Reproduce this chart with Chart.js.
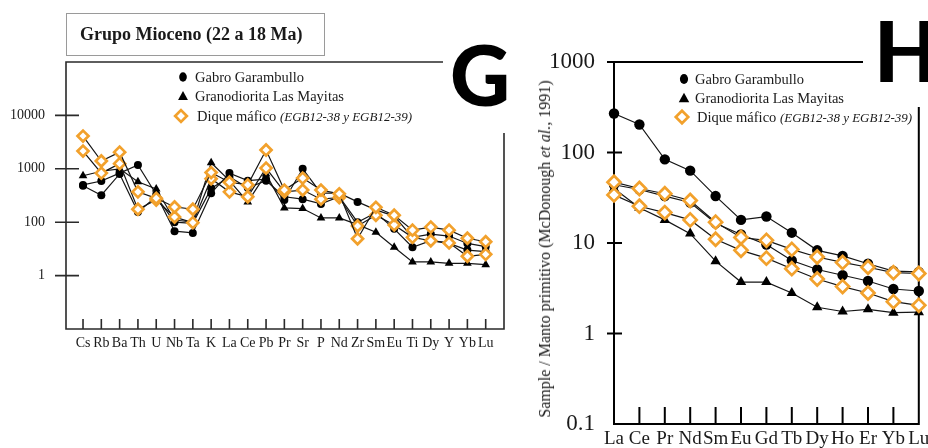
<!DOCTYPE html>
<html>
<head>
<meta charset="utf-8">
<script src="https://cdn.jsdelivr.net/npm/chart.js@4.4.0/dist/chart.umd.min.js"></script>
<style>
body { margin:0; width:928px; height:448px; overflow:hidden; position:relative; background:#fff;
       font-family:"Liberation Serif", "Times New Roman", serif; color:#1a1a1a; }
canvas { position:absolute; left:0; top:0; }
.abs { position:absolute; white-space:nowrap; }
.leg { font-size:14.5px; line-height:18px; }
.leg i { font-size:13px; }
.big { font-family:Lato, Roboto, "Open Sans", sans-serif; font-weight:900; font-size:83px; line-height:83px; color:#000; }
#titlebox { left:66px; top:13px; width:259px; height:43px; border:1.5px solid #9a9a9a; box-sizing:border-box;
            font-weight:bold; font-size:18px; line-height:41px; padding-left:13px; }
</style>
</head>
<body>
<canvas id="g" width="928" height="448"></canvas>
<canvas id="h" width="928" height="448"></canvas>

<div class="abs" id="titlebox">Grupo Mioceno (22 a 18 Ma)</div>
<div class="abs big" style="left:450px;top:33px">G</div>
<div class="abs big" style="left:874px;top:9px">H</div>

<div class="abs leg" style="left:195px;top:68px">Gabro Garambullo</div>
<div class="abs leg" style="left:195px;top:87px">Granodiorita Las Mayitas</div>
<div class="abs leg" style="left:197px;top:107px">Dique máfico <i>(EGB12-38 y EGB12-39)</i></div>

<div class="abs leg" style="left:695px;top:70px">Gabro Garambullo</div>
<div class="abs leg" style="left:695px;top:89px">Granodiorita Las Mayitas</div>
<div class="abs leg" style="left:697px;top:108px">Dique máfico <i>(EGB12-38 y EGB12-39)</i></div>

<div class="abs" style="left:545px;top:249px;font-size:16px;transform:translate(-50%,-50%) rotate(-90deg)">Sample / Manto primitivo (McDonough <i>et al.</i>, 1991)</div>

<script>
// panel G - spider diagram
var gCats = ['Cs','Rb','Ba','Th','U','Nb','Ta','K','La','Ce','Pb','Pr','Sr','P','Nd','Zr','Sm','Eu','Ti','Dy','Y','Yb','Lu'];
var gGabro1 = [500, 590, 830, 1180, 330, 68, 63, 350, 830, 600, 640, 260, 1000, 350, 350, 240, 170, 130, 52, 60, 55, 40, 35];
var gGabro2 = [480, 320, 800, 155, 300, 100, 95, 430, 700, 440, 600, 300, 270, 220, 300, 100, 150, 75, 34, 45, 40, 30, 28];
var gGrano  = [740, 900, 1000, 570, 420, 110, 100, 1300, 600, 240, 800, 185, 180, 120, 120, 90, 65, 34, 18, 18, 17, 17, 16];
var gDique1 = [4100, 1400, 2050, 370, 280, 193, 175, 850, 560, 500, 2250, 400, 670, 400, 340, 49, 190, 135, 71, 81, 71, 50, 43];
var gDique2 = [2150, 830, 1250, 175, 260, 125, 98, 650, 370, 300, 1030, 370, 400, 270, 290, 85, 135, 89, 52, 45, 41, 23, 25];
var gYTicks = [10, 100, 1000, 10000];
var gYLabels = ['1', '100', '1000', '10000'];

// panel H - REE diagram
var hCats = ['La','Ce','Pr','Nd','Sm','Eu','Gd','Tb','Dy','Ho','Er','Yb','Lu'];
var hGabro1 = [270, 204, 84, 63, 33, 18, 19.6, 13, 8.3, 7.2, 5.9, 4.9, 4.8];
var hGabro2 = [44, 39, 33, 28, 16.5, 12.4, 9.6, 6.4, 5.1, 4.4, 3.8, 3.1, 2.95];
var hGrano  = [40, 24.5, 18, 12.7, 6.3, 3.7, 3.7, 2.8, 1.95, 1.75, 1.85, 1.7, 1.72];
var hDique1 = [47, 40, 35, 29.5, 17, 11.5, 10.7, 8.5, 7, 6.1, 5.4, 4.7, 4.6];
var hDique2 = [34, 25.5, 21.7, 18, 11, 8.3, 6.8, 5.2, 4.0, 3.3, 2.8, 2.25, 2.05];
var hYTicks = [0.1, 1, 10, 100, 1000];
var hYLabels = ['0.1', '1', '10', '100', '1000'];

var SERIF = "'Liberation Serif', 'Times New Roman', serif";
var ORANGE = '#f2a12c';

function pts(arr) {
  return arr.map(function (v, i) { return {x: i, y: v}; });
}

// one dataset per sample; marker kind picks the symbol
function ds(arr, kind, r) {
  var d = {data: pts(arr), borderColor: '#151515', borderWidth: 1.2, clip: false, pointHitRadius: 0};
  if (kind == 'circle') {
    d.pointStyle = 'circle'; d.pointRadius = r; d.pointBackgroundColor = '#000'; d.pointBorderColor = '#000'; d.pointBorderWidth = 0;
  } else if (kind == 'tri') {
    d.pointStyle = 'triangle'; d.pointRadius = r + 1; d.pointBackgroundColor = '#000'; d.pointBorderColor = '#000'; d.pointBorderWidth = 0;
  } else {
    d.pointStyle = 'rectRot'; d.pointRadius = r + 1.5; d.pointBackgroundColor = '#fff'; d.pointBorderColor = ORANGE; d.pointBorderWidth = 2.7;
  }
  return d;
}

// axis frame, tick marks and legend symbols
var frame = {
  id: 'frame',
  beforeDatasetsDraw: function (chart, args, o) {
    var ctx = chart.ctx, a = chart.chartArea;
    var xs = chart.scales.x, ys = chart.scales.y;
    ctx.save();
    ctx.strokeStyle = o.color;
    ctx.lineWidth = o.width;
    ctx.beginPath();
    ctx.moveTo(o.topEnd, a.top);
    ctx.lineTo(a.left, a.top);
    ctx.lineTo(a.left, a.bottom);
    ctx.lineTo(a.right, a.bottom);
    ctx.lineTo(a.right, o.rightStart);
    o.yTicks.forEach(function (v) {
      var y = ys.getPixelForValue(v);
      ctx.moveTo(a.left - o.yOut, y);
      ctx.lineTo(a.left + o.yIn, y);
    });
    o.xTicks.forEach(function (i) {
      var x = xs.getPixelForValue(i);
      ctx.moveTo(x, a.bottom);
      ctx.lineTo(x, a.bottom - o.xLen);
    });
    ctx.stroke();

    // legend symbols
    var L = o.legend, r = L.r;
    ctx.fillStyle = '#000';
    ctx.beginPath();
    ctx.ellipse(L.x, L.y[0], r * 0.85, r * 1.05, 0, 0, Math.PI * 2);
    ctx.fill();
    ctx.beginPath();
    ctx.moveTo(L.x, L.y[1] - r * 1.1);
    ctx.lineTo(L.x + r * 1.1, L.y[1] + r * 0.9);
    ctx.lineTo(L.x - r * 1.1, L.y[1] + r * 0.9);
    ctx.closePath();
    ctx.fill();
    var dx = L.x - 2, dy = L.y[2], q = r * 1.3;
    ctx.beginPath();
    ctx.moveTo(dx, dy - q); ctx.lineTo(dx + q, dy); ctx.lineTo(dx, dy + q); ctx.lineTo(dx - q, dy);
    ctx.closePath();
    ctx.fillStyle = '#fff';
    ctx.fill();
    ctx.strokeStyle = ORANGE;
    ctx.lineWidth = 2.7;
    ctx.stroke();
    ctx.restore();
  }
};

function makeChart(id, cfg) {
  return new Chart(document.getElementById(id), {
    type: 'line',
    data: {datasets: cfg.datasets},
    plugins: [frame],
    options: {
      responsive: false,
      animation: false,
      events: [],
      layout: {padding: cfg.padding},
      plugins: {legend: {display: false}, tooltip: {enabled: false}, frame: cfg.frame},
      scales: {
        x: {
          type: 'linear', min: cfg.xMin, max: cfg.xMax,
          afterBuildTicks: function (s) { s.ticks = cfg.cats.map(function (c, i) { return {value: i}; }); },
          // fixed box, labels may overhang the plot edges
          afterFit: function (s) { s.height = cfg.xHeight; s.paddingLeft = 0; s.paddingRight = 0; },
          ticks: {autoSkip: false, maxRotation: 0, padding: cfg.xPad, color: '#1a1a1a',
                  font: {family: SERIF, size: cfg.xFont},
                  callback: function (v, i) { return cfg.cats[i]; }},
          grid: {display: false, drawTicks: false},
          border: {display: false}
        },
        y: {
          type: 'logarithmic', min: cfg.yMin, max: cfg.yMax,
          afterBuildTicks: function (s) { s.ticks = cfg.yTicks.map(function (v) { return {value: v}; }); },
          afterFit: function (s) { s.width = cfg.yWidth; s.paddingTop = 0; s.paddingBottom = 0; },
          ticks: {padding: cfg.yPad, color: '#1a1a1a', font: {family: SERIF, size: cfg.yFont},
                  callback: function (v, i) { return cfg.yLabels[i]; }},
          grid: {display: false, drawTicks: false},
          border: {display: false}
        }
      }
    }
  });
}

makeChart('g', {
  cats: gCats,
  datasets: [ds(gDique1, 'dia', 4), ds(gDique2, 'dia', 4), ds(gGabro1, 'circle', 4), ds(gGabro2, 'circle', 4), ds(gGrano, 'tri', 4)],
  padding: {left: 0, top: 62, right: 424, bottom: 0},
  xMin: -0.93, xMax: 23, xHeight: 119, xPad: 6, xFont: 14,
  yMin: 1, yMax: 100000, yWidth: 66, yPad: 21, yFont: 14,
  yTicks: gYTicks, yLabels: gYLabels,
  frame: {color: '#2a2a2a', width: 1.6, topEnd: 443, rightStart: 133, yOut: 11, yIn: 13, xLen: 10,
          yTicks: gYTicks, xTicks: gCats.map(function (c, i) { return i; }),
          legend: {x: 183, y: [77, 96, 116], r: 4.5}}
});

makeChart('h', {
  cats: hCats,
  datasets: [ds(hDique1, 'dia', 5), ds(hDique2, 'dia', 5), ds(hGabro1, 'circle', 5.2), ds(hGabro2, 'circle', 5.2), ds(hGrano, 'tri', 5)],
  padding: {left: 520, top: 62, right: 7, bottom: 0},
  xMin: 0, xMax: 12, xHeight: 24, xPad: 4, xFont: 19,
  yMin: 0.1, yMax: 1000, yWidth: 94, yPad: 19, yFont: 23,
  yTicks: hYTicks, yLabels: hYLabels,
  frame: {color: '#000', width: 2, topEnd: 863, rightStart: 107, yOut: 7, yIn: 8, xLen: 17,
          yTicks: [1, 10, 100, 1000], xTicks: [1, 2, 3, 4, 5, 6, 7, 8, 9, 10, 11],
          legend: {x: 684, y: [79, 98, 117], r: 4.8}}
});
</script>
</body>
</html>
